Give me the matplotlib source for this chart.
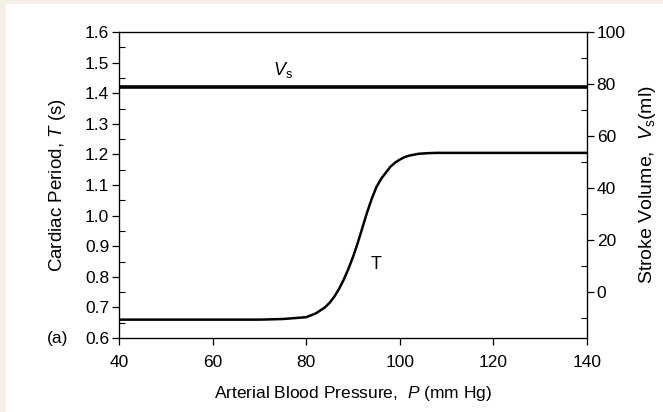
import numpy as np
import matplotlib
matplotlib.use("Agg")
import matplotlib.pyplot as plt
from matplotlib.patches import Rectangle
from matplotlib.ticker import MultipleLocator, FormatStrFormatter

# values
pressure = [40, 50, 60, 70, 75, 80, 82, 84, 85, 86, 87, 88, 89, 90, 91, 92, 93,
            94, 95, 96, 97, 98, 99, 100, 101, 102, 104, 106, 108, 115, 125, 140]
period = [0.660, 0.660, 0.660, 0.660, 0.662, 0.668, 0.680, 0.700, 0.715, 0.735,
          0.760, 0.790, 0.825, 0.865, 0.910, 0.960, 1.010, 1.055, 1.093, 1.120,
          1.140, 1.160, 1.173, 1.183, 1.191, 1.196, 1.202, 1.204, 1.205, 1.205,
          1.205, 1.205]
stroke_p = [40, 140]
stroke_v = [79, 79]

plt.rcParams['font.family'] = ['Liberation Sans', 'DejaVu Sans']
plt.rcParams['mathtext.fontset'] = 'custom'
plt.rcParams['mathtext.rm'] = 'Liberation Sans'
plt.rcParams['mathtext.it'] = 'Liberation Sans:italic'

fig = plt.figure(figsize=(6.63, 4.12), dpi=100)
fig.patch.set_facecolor('#f3efe5')
fig.patches.append(Rectangle((6 / 663, 0), 1, 1 - 4 / 412, transform=fig.transFigure,
                             facecolor='white', edgecolor='none', zorder=-5))

ax = fig.add_axes([119 / 663, 74 / 412, 468 / 663, 306 / 412])
ax.set_facecolor('white')
ax.plot(pressure, period, color='black', lw=1.8)
ax.set_xlim(40, 140)
ax.set_ylim(0.6, 1.6)
ax.xaxis.set_major_locator(MultipleLocator(20))
ax.yaxis.set_major_locator(MultipleLocator(0.1))
ax.yaxis.set_minor_locator(MultipleLocator(0.05))
ax.yaxis.set_major_formatter(FormatStrFormatter('%.1f'))
ax.tick_params(axis='both', which='major', direction='out', length=5, width=0.9,
               labelsize=12.5, pad=2)
ax.tick_params(axis='x', which='major', pad=7)
ax.tick_params(axis='y', which='minor', direction='in', length=4, width=0.8)
for s in ax.spines.values():
    s.set_linewidth(0.9)
ax.set_xlabel('Arterial Blood Pressure,  $P$ (mm Hg)', fontsize=12.5, labelpad=10)
ax.set_ylabel('Cardiac Period, $T$ (s)', fontsize=13.5, labelpad=12)
ax.text(93.7, 0.84, 'T', fontsize=13, ha='left', va='center')
ax.text(-0.108, 0.0, '(a)', transform=ax.transAxes, fontsize=12.5, ha='right', va='center')

ax2 = ax.twinx()
ax2.plot(stroke_p, stroke_v, color='black', lw=2.6)
ax2.set_ylim(-17.5, 100)
ax2.yaxis.set_major_locator(MultipleLocator(20))
ax2.yaxis.set_minor_locator(MultipleLocator(10))
ax2.tick_params(axis='y', which='major', direction='out', length=5, width=0.9,
                labelsize=12.5, pad=2)
ax2.tick_params(axis='y', which='minor', direction='in', length=4, width=0.8)
ax2.set_ylabel('Stroke Volume,  $V_\\mathrm{s}$(ml)', fontsize=14, labelpad=8)
ax2.text(75, 81.5, '$V_\\mathrm{s}$', fontsize=13, ha='center', va='bottom')

fig.savefig('out.png', dpi=100, facecolor=fig.get_facecolor())
